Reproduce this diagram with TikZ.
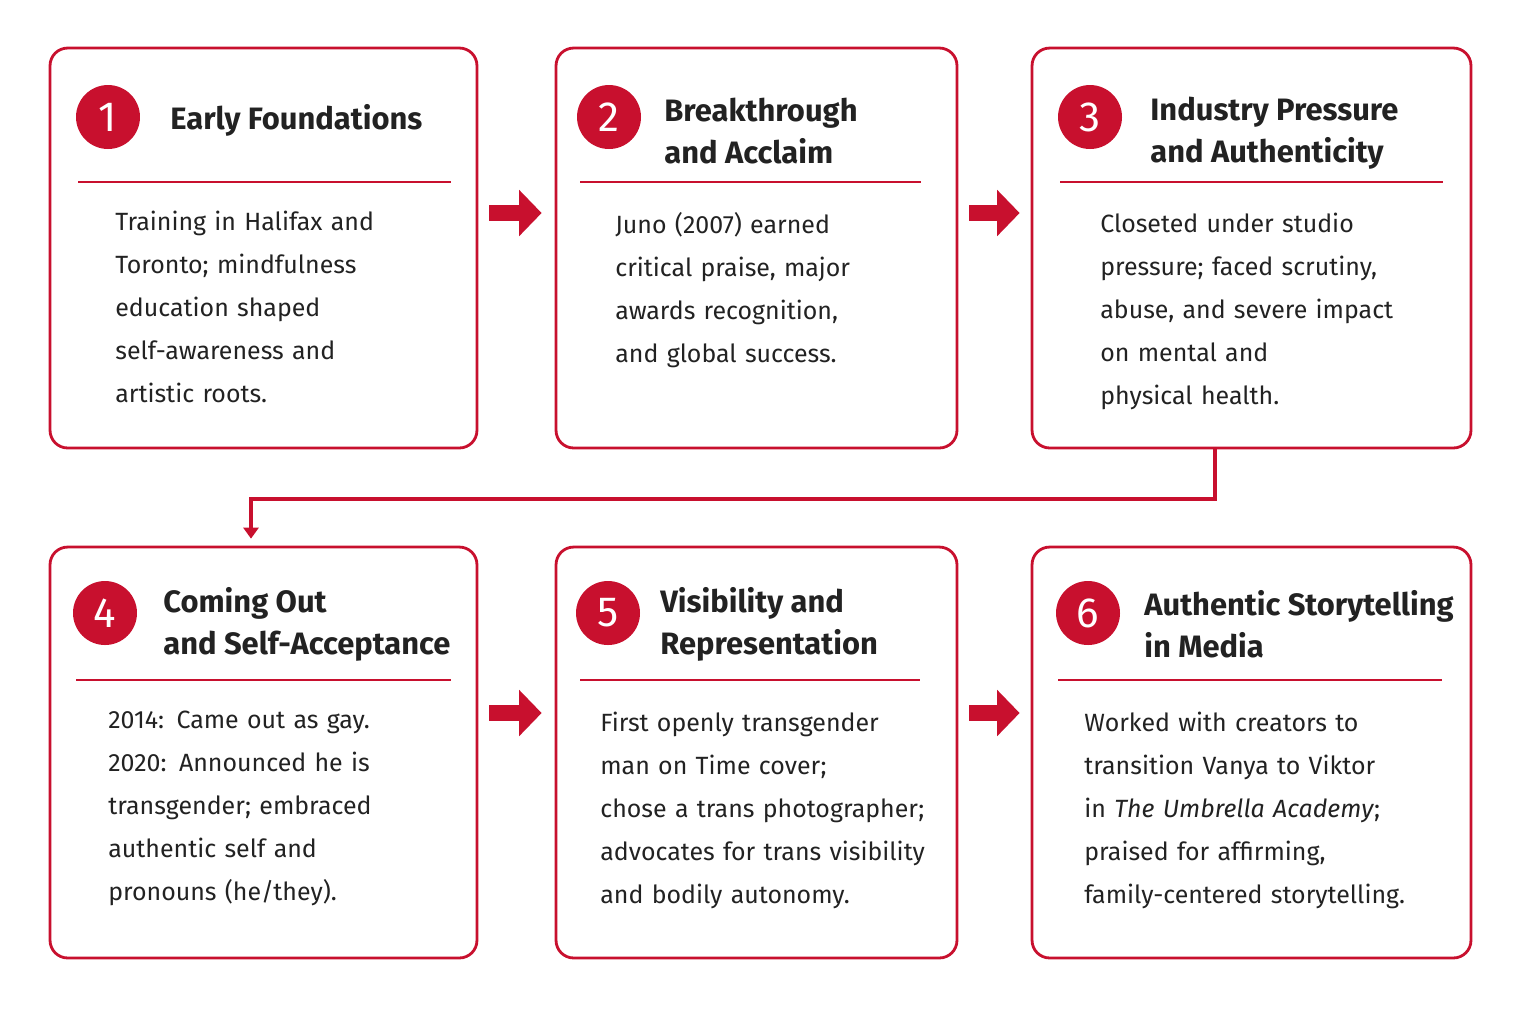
\documentclass[tikz,border=0pt]{standalone}
\usepackage{fontspec}
\setmainfont{Fira Sans}
\usetikzlibrary{arrows.meta}
\definecolor{brandred}{HTML}{C8102E}
\definecolor{inkgray}{HTML}{222222}

\begin{document}
\begin{tikzpicture}[
    x=0.02cm, y=-0.02cm,
    % Caixas das etapas
    box/.style={draw=brandred, line width=1.6pt, rounded corners=10pt, fill=white},
    % Círculos numerados
    num/.style={circle, fill=brandred, text=white, minimum size=1.28cm, inner sep=0pt,
      font=\fontsize{24}{24}\selectfont},
    % Títulos e textos
    title/.style={anchor=west, align=left, inner sep=0pt, text=inkgray,
      font=\fontsize{17.6}{24}\selectfont\bfseries},
    body/.style={anchor=north west, align=left, inner sep=0pt, text=inkgray, text width=7.4cm,
      font=\fontsize{14.2}{24.4}\selectfont},
    % Linha abaixo do título
    rule/.style={draw=brandred, line width=1.4pt},
    % Setas entre caixas
    stagearrow/.style={draw=brandred, line width=0.32cm, -{Triangle[width=0.9cm,length=0.45cm]}},
    link/.style={draw=brandred, line width=2.2pt, -{Triangle[width=0.3cm,length=0.22cm]}}
  ]
  \useasboundingbox (0,0) rectangle (1520,1009);

  % Primeira linha
  \node[box, minimum width=8.54cm, minimum height=8cm] (box1) at (263.5,248) {};
  \node[box, minimum width=8.02cm, minimum height=8cm] (box2) at (756.5,248) {};
  \node[box, minimum width=8.78cm, minimum height=8cm] (box3) at (1251.5,248) {};
  % Segunda linha
  \node[box, minimum width=8.54cm, minimum height=8.22cm] (box4) at (263.5,752.5) {};
  \node[box, minimum width=8.02cm, minimum height=8.22cm] (box5) at (756.5,752.5) {};
  \node[box, minimum width=8.78cm, minimum height=8.22cm] (box6) at (1251.5,752.5) {};

  % Números
  \node[num] (num1) at (108,117) {1};
  \node[num] (num2) at (609,117) {2};
  \node[num] (num3) at (1090,117) {3};
  \node[num] (num4) at (105,613) {4};
  \node[num] (num5) at (608,613) {5};
  \node[num] (num6) at (1088,613) {6};

  % Títulos
  \node[title] (title1) at (170,120) {Early Foundations};
  \node[title] (title2) at (664,131) {Breakthrough\\and Acclaim};
  \node[title] (title3) at (1150,133) {Industry Pressure\\and Authenticity};
  \node[title] (title4) at (163,624) {Coming Out\\and Self-Acceptance};
  \node[title] (title5) at (660,624) {Visibility and\\Representation};
  \node[title] (title6) at (1144,624) {Authentic Storytelling\\in Media};

  % Linhas
  \draw[rule] (78,182) -- (451,182);
  \draw[rule] (580,182) -- (921,182);
  \draw[rule] (1060,182) -- (1443,182);
  \draw[rule] (76,680) -- (451,680);
  \draw[rule] (580,680) -- (920,680);
  \draw[rule] (1058,680) -- (1442,680);

  % Textos
  \node[body] (text1) at (115,211) {Training in Halifax and\\Toronto; mindfulness\\education shaped\\self-awareness and\\artistic roots.};
  \node[body] (text2) at (615,212) {Juno (2007) earned\\critical praise, major\\awards recognition,\\and global success.};
  \node[body] (text3) at (1100,213) {Closeted under studio\\pressure; faced scrutiny,\\abuse, and severe impact\\on mental and\\physical health.};
  \node[body] (text4) at (108,711) {2014: Came out as gay.\\2020: Announced he is\\transgender; embraced\\authentic self and\\pronouns (he/they).};
  \node[body] (text5) at (600,712) {First openly transgender\\man on Time cover;\\chose a trans photographer;\\advocates for trans visibility\\and bodily autonomy.};
  \node[body] (text6) at (1084,712) {Worked with creators to\\transition Vanya to Viktor\\in \textit{The Umbrella Academy};\\praised for affirming,\\family-centered storytelling.};

  % Setas
  \draw[stagearrow] ([xshift=0.22cm,yshift=0.7cm]box1.east) -- ([xshift=-0.26cm,yshift=0.7cm]box2.west);
  \draw[stagearrow] ([xshift=0.22cm,yshift=0.7cm]box2.east) -- ([xshift=-0.22cm,yshift=0.7cm]box3.west);
  \draw[stagearrow] ([xshift=0.22cm,yshift=0.79cm]box4.east) -- ([xshift=-0.26cm,yshift=0.79cm]box5.west);
  \draw[stagearrow] ([xshift=0.22cm,yshift=0.79cm]box5.east) -- ([xshift=-0.22cm,yshift=0.79cm]box6.west);
  % Ligação entre linhas
  \draw[link] ([xshift=-0.73cm]box3.south) -- ++(0,-1cm) -| ([xshift=-0.25cm,yshift=0.14cm]box4.north);
\end{tikzpicture}
\end{document}
